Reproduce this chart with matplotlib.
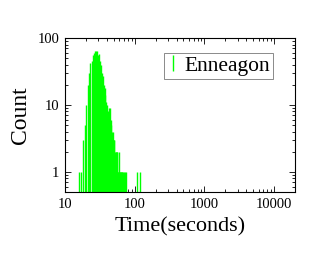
import matplotlib
matplotlib.use('Agg')
import matplotlib.pyplot as plt
from matplotlib.lines import Line2D

# completion times (seconds) and how many runs hit each one
times = [16, 17, 18, 19, 20, 21, 22, 23, 24, 25, 26, 27, 28, 29, 30,
         31, 32, 33, 34, 35, 36, 37, 38, 39, 40, 41, 42, 43, 44, 45,
         46, 47, 48, 49, 50, 51, 52, 53, 54, 55, 56, 57, 58, 59, 60,
         61, 62, 63, 64, 65, 66, 67, 69, 73, 76, 107, 118]
counts = [1, 1, 3, 5, 10, 20, 30, 42, 45, 55, 60, 65, 63, 65, 55,
          58, 45, 40, 30, 27, 20, 18, 14, 11, 10, 8, 9, 7, 9, 6,
          5, 4, 4, 3, 3, 3, 2, 2, 2, 2, 2, 1, 1, 2, 1,
          1, 1, 1, 1, 1, 1, 1, 1, 1, 1, 1, 1]
label = 'Enneagon'

plt.rcParams['font.family'] = ['Liberation Serif', 'DejaVu Serif']

fig = plt.figure(figsize=(3.32, 2.57), dpi=100)
ax = fig.add_axes([0.196, 0.253, 0.693, 0.599])

ax.vlines(times, 0.01, counts, colors='#00ff00', linewidth=1.0)

ax.set_xscale('log')
ax.set_yscale('log')
ax.set_xlim(10, 20000)
ax.set_ylim(0.5, 100)

ax.set_xticks([10, 100, 1000, 10000])
ax.set_xticklabels(['10', '100', '1000', '10000'])
ax.set_yticks([1, 10, 100])
ax.set_yticklabels(['1', '10', '100'])
ax.tick_params(which='both', direction='in', top=True, right=True, labelsize=10.5, pad=4)
ax.tick_params(which='major', length=4, width=0.6)
ax.tick_params(which='minor', length=2, width=0.6)
for s in ax.spines.values():
    s.set_linewidth(0.8)

ax.set_xlabel('Time(seconds)', fontsize=16, labelpad=5)
ax.set_ylabel('Count', fontsize=17, labelpad=5)

handle = Line2D([], [], color='#00ff00', marker='|', linestyle='none', markersize=12, markeredgewidth=1)
leg = ax.legend([handle], [label], loc='upper right', fontsize=15.5, frameon=True,
                fancybox=False, edgecolor='#555555', handlelength=0.5, handletextpad=0.3,
                borderpad=0.15, borderaxespad=0, bbox_to_anchor=(0.905, 0.905))
leg.get_frame().set_linewidth(0.6)

plt.savefig('out.png', dpi=100)
